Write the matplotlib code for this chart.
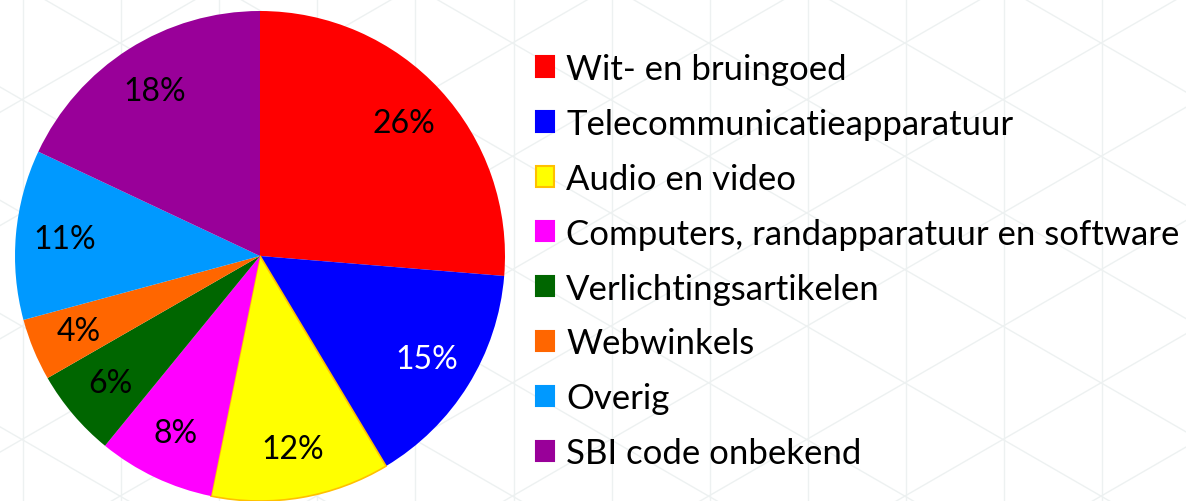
import numpy as np
import matplotlib.pyplot as plt
from matplotlib.patches import Patch

# Data (shares in %)
categories = ['Wit- en bruingoed', 'Telecommunicatieapparatuur', 'Audio en video',
              'Computers, randapparatuur en software', 'Verlichtingsartikelen',
              'Webwinkels', 'Overig', 'SBI code onbekend']
shares = [26.3, 15.1, 11.8, 7.7, 5.8, 4.1, 11.2, 18.0]
colors = ['#ff0000', '#0000ff', '#ffff00', '#ff00ff', '#006600',
          '#ff6600', '#0099ff', '#990099']
edge_colors = ['none', 'none', '#ffc000', 'none', 'none', 'none', 'none', 'none']

plt.rcParams['font.family'] = ['Lato', 'DejaVu Sans']

W, H = 1186, 502
fig = plt.figure(figsize=(W / 100, H / 100), dpi=100)
fig.patch.set_facecolor('white')

# faint triangular lattice in the background
bg = fig.add_axes([0, 0, 1, 1])
bg.set_xlim(0, W)
bg.set_ylim(H, 0)
bg.axis('off')
line_col = '#edf1f1'
for x in np.arange(23, W, 98.1):
    bg.axvline(x, color=line_col, lw=1.0, zorder=0)
slope = np.tan(np.radians(30))
xs = np.array([0, W])
step = 98.1 * 2 / np.sqrt(3)
for c in np.arange(-478.4 - 10 * step, 1500, step):
    bg.plot(xs, slope * xs + c, color=line_col, lw=1.0, zorder=0)
for c in np.arange(566.4 - 10 * step, 1500 + 10 * step, step):
    bg.plot(xs, -slope * xs + c, color=line_col, lw=1.0, zorder=0)

# pie
cx, cy, r = 260, 257, 245
ax = fig.add_axes([(cx - r) / W, (H - cy - r) / H, 2 * r / W, 2 * r / H])
wedges, texts, autotexts = ax.pie(
    shares, colors=colors, startangle=90, counterclock=False,
    autopct=lambda p: f'{p:.0f}%', pctdistance=0.8, radius=1.0,
    wedgeprops=dict(linewidth=1.2), textprops=dict(fontsize=23, color='black'))
for w, ec in zip(wedges, edge_colors):
    w.set_edgecolor(ec)
autotexts[1].set_color('white')
ax.set_xlim(-1, 1)
ax.set_ylim(-1, 1)
ax.set_aspect('equal')
ax.axis('off')

handles = [Patch(facecolor=c, edgecolor=(ec if ec != 'none' else c), linewidth=1.5)
           for c, ec in zip(colors, edge_colors)]
fig.legend(handles, categories, loc='upper left', bbox_to_anchor=(522 / W, 1 - 40 / H),
           frameon=False, fontsize=25, handlelength=0.52, handleheight=0.52,
           handletextpad=0.35, labelspacing=0.66, borderaxespad=0)

fig.savefig('out.png', dpi=100, facecolor='white')
